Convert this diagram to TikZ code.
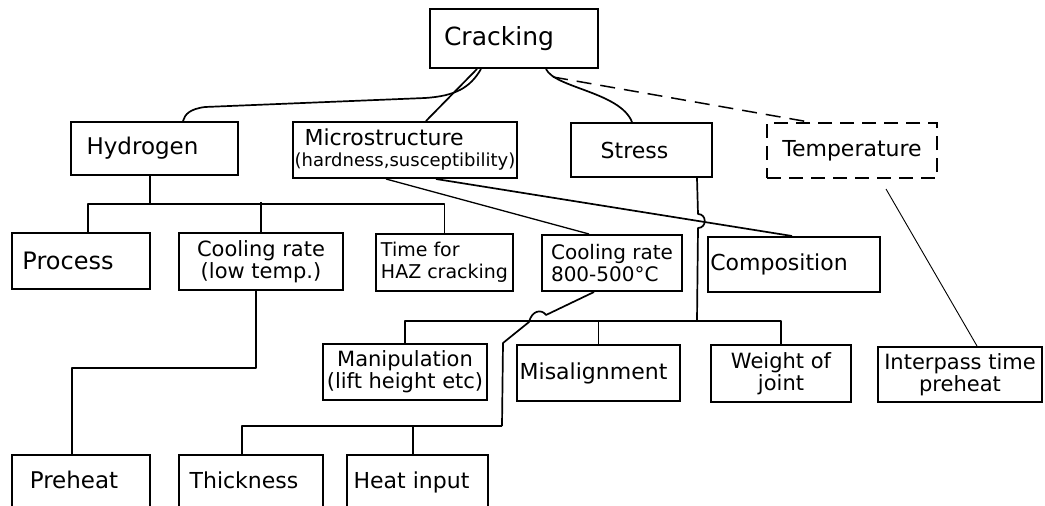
\documentclass[tikz,border=0pt]{standalone}
\usepackage{fontspec}
\setmainfont{DejaVu Sans}
\usetikzlibrary{calc}
\begin{document}
\begin{tikzpicture}[x=1pt,y=-1pt,
  box/.style={draw, line width=2pt, inner sep=0pt, font=\fontsize{22}{24}\selectfont},
  twoline/.style={font=\fontsize{21}{22}\selectfont},
  conn/.style={line width=1.7pt, line join=round},
  connthin/.style={line width=1.3pt},
  hairline/.style={line width=0.9pt},
  dashconn/.style={line width=1.5pt, dash pattern=on 15pt off 9pt},
  dashbox/.style={dash pattern=on 14pt off 8pt}]
\clip (0,0) rectangle (1045,506);
\fill[white] (0,0) rectangle (1045,506);

% level 0
\node[box, minimum width=168, minimum height=59, font=\fontsize{25}{26}\selectfont] (crack) at (514,38.5) {\raisebox{3pt}{Cracking}\kern30pt};
% level 1
\node[box, minimum width=167, minimum height=53, font=\fontsize{23}{24}\selectfont] (hyd) at (154.5,148.5) {Hydrogen\kern24pt};
\node[box, minimum width=224, minimum height=56, align=left, font=\fontsize{18}{21}\selectfont] (micro) at (405,150) {\hspace*{10pt}{\fontsize{22}{21}\selectfont Microstructure}\\(hardness,susceptibility)};
\node[box, minimum width=141, minimum height=54] (stress) at (641.5,150) {Stress\kern14pt};
\node[box, dashbox, minimum width=170, minimum height=55] (temp) at (852,150.5) {Temperature};
% level 2
\node[box, minimum width=138, minimum height=56, font=\fontsize{24}{25}\selectfont] (proc) at (81,261) {Process\kern26pt};
\node[box, twoline, align=center, minimum width=164, minimum height=57] (coollow) at (261,261.5) {Cooling rate\\(low temp.)};
\node[box, align=left, font=\fontsize{19}{22}\selectfont, minimum width=137, minimum height=57] (time) at (444.5,262.5) {Time for\\HAZ cracking};
\node[box, align=left, font=\fontsize{20}{22}\selectfont, minimum width=140, minimum height=56] (cool800) at (612,263) {Cooling rate\\800-500°C};
\node[box, minimum width=172, minimum height=55] (comp) at (794,264.5) {Composition\kern30pt};
% level 3
\node[box, twoline, align=center, minimum width=164, minimum height=56] (manip) at (405,372) {Manipulation\\(lift height etc)};
\node[box, minimum width=163, minimum height=56] (misal) at (598.5,373) {Misalignment\kern10pt};
\node[box, twoline, align=center, minimum width=140, minimum height=57] (weight) at (781,373.5) {Weight of\\joint};
\node[box, twoline, align=center, minimum width=164, minimum height=55] (inter) at (960,374.5) {Interpass time\\preheat};
% level 4 (cut off by the frame)
\node[box, font=\fontsize{23}{24}\selectfont, minimum width=138, minimum height=56] (preheat) at (81,483) {\raisebox{6pt}{Preheat}\kern14pt};
\node[box, minimum width=144, minimum height=56] (thick) at (251,483) {\raisebox{6pt}{Thickness}\kern14pt};
\node[box, minimum width=141, minimum height=56] (heat) at (417.5,483) {\raisebox{6pt}{Heat input}\kern12pt};

% Cracking -> level 1
\draw[conn] ($(crack.south west)+(52,0)$) .. controls (470,88) and (455,96) .. (425,98) -- (205,107) .. controls (190,109) and (185,114) .. ($(hyd.north west)+(113,0)$);
\draw[conn] ($(crack.south west)+(48,0)$) -- ($(micro.north west)+(134,0)$);
\draw[conn] ($(crack.south west)+(117,0)$) .. controls (555,88) and (620,92) .. ($(stress.north west)+(62,0)$);
\coordinate (dstart) at ($(crack.south west)+(124,8)$);
\draw[dashconn] (dstart) -- ($(temp.north west)+(43,0)$);
\draw[hairline] ($(temp.south west)+(120,10)$) -- ($(inter.north west)+(100,0)$);

% Hydrogen bus
\coordinate (hb) at ($(hyd.south west)+(80,28)$);
\draw[conn] ($(hyd.south west)+(80,0)$) -- (hb);
\draw[conn] ($(proc.north west)+(77,0)$) |- (hb -| time.north) -- (time.north);
\draw[conn] ($(coollow.north west)+(83,0)$) -- ++(0,-30);

% Cooling rate (low temp.) -> Preheat
\draw[conn] ($(coollow.south west)+(78,0)$) -- ++(0,77) -| ($(preheat.north west)+(61,0)$);

% Microstructure links
\draw[connthin] ($(micro.south west)+(94,0)$) -- ($(cool800.north west)+(48,0)$);
\draw[conn] ($(micro.south west)+(144,0)$) -- ($(comp.north west)+(85,0)$);

% Stress bus (hops over the Microstructure-Composition line)
\coordinate (sb) at ($(stress.south west)+(127,143)$);
\draw[conn] ($(stress.south west)+(127,0)$) -- (698,214) .. controls (707,214) and (707,228) .. (698,228) -- (sb);
\draw[conn] (manip.north) -- (manip.north |- sb) -- (weight.north |- sb) -- (weight.north);
\draw[conn] (misal.north) -- (misal.north |- sb);

% Cooling rate 800-500 -> Thickness / Heat input (hops over the Stress bus)
\coordinate (tb) at ($(thick.north west)+(324,-28)$);
\draw[conn] ($(cool800.south west)+(53,0)$) -- (546,315) .. controls (542,309) and (532,310) .. (529,322) -- (503,343) -- (tb);
\draw[conn] ($(thick.north west)+(64,0)$) |- (tb);
\draw[conn] ($(heat.north west)+(67,0)$) -- ++(0,-28);
\end{tikzpicture}
\end{document}
